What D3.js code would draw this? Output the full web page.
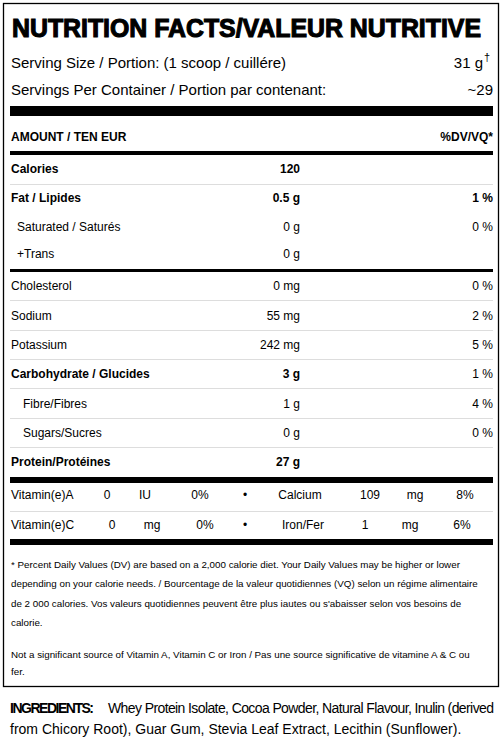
<!DOCTYPE html>
<html><head><meta charset="utf-8">
<script src="https://cdn.jsdelivr.net/npm/d3@7"></script>
<style>body{margin:0;background:#fff}svg{display:block}</style>
</head><body>
<script>
const nutrients = ["Calories","Fat / Lipides","Saturated / Saturés","+Trans","Cholesterol","Sodium","Potassium","Carbohydrate / Glucides","Fibre/Fibres","Sugars/Sucres","Protein/Protéines"];
const amounts = ["120","0.5 g","0 g","0 g","0 mg","55 mg","242 mg","3 g","1 g","0 g","27 g"];
const dvs = ["","1 %","0 %","","0 %","2 %","5 %","1 %","4 %","0 %",""];
const bold = [1,1,0,0,0,0,0,1,0,0,1];
const indent = [0,0,1,1,0,0,0,0,2,2,0];
const vitRow1 = ["Vitamin(e)A","0","IU","0%","•","Calcium","109","mg","8%"];
const vitRow2 = ["Vitamin(e)C","0","mg","0%","•","Iron/Fer","1","mg","6%"];

const W=504,H=742,F="Arial, 'Liberation Sans', sans-serif";
const svg=d3.select("body").append("svg").attr("width",W).attr("height",H);
svg.append("rect").attr("x",3.5).attr("y",3.5).attr("width",495).attr("height",683).attr("fill","none").attr("stroke","#000").attr("stroke-width",1.3);
const t=(x,y,s,o={})=>svg.append("text").attr("x",x).attr("y",y).text(s)
  .attr("font-family",F).attr("font-size",o.size||12).attr("font-weight",o.w||"normal")
  .attr("text-anchor",o.a||"start").attr("fill","#000");
const rect=(y,h,c="#000")=>svg.append("rect").attr("x",10).attr("y",y).attr("width",483).attr("height",h).attr("fill",c);

t(12,37,"NUTRITION FACTS/VALEUR NUTRITIVE",{size:25,w:"bold"}).attr("stroke","#000").attr("stroke-width",1.1)
  .attr("textLength",469).attr("lengthAdjust","spacingAndGlyphs");
t(11,68,"Serving Size / Portion: (1 scoop / cuillére)",{size:15});
t(483,68,"31 g",{size:15,a:"end"});
t(484,61,"†",{size:11});
t(11,95,"Servings Per Container / Portion par contenant:",{size:15});
t(493,95,"~29",{size:15,a:"end"});
rect(106,10);
t(11,141,"AMOUNT / TEN EUR",{w:"bold"});
t(493,141,"%DV/VQ*",{w:"bold",a:"end"});
rect(151,4);

const rowY=d3.scaleOrdinal().domain(nutrients).range([169,198,227,254,286,316,345,374,404,433,462]);
const ix=[11,17,23];
nutrients.forEach((n,i)=>{
  const y=rowY(n)+4, w=bold[i]?"bold":"normal";
  t(ix[indent[i]],y,n,{w});
  t(300,y,amounts[i],{w,a:"end"});
  if(dvs[i]) t(493,y,dvs[i],{w:i===1?"bold":"normal",a:"end"});
});
[184,300,330,359,388,418,447].forEach(y=>rect(y,1,"#ddd"));
rect(269,3);
rect(477,6);

const c1=[11,107,145,200,245,300,370,415,465], c2=[11,112,152,205,245,303,365,410,462];
vitRow1.forEach((s,i)=>t(c1[i],499,s,{a:i?"middle":"start"}));
rect(511,1,"#ddd");
vitRow2.forEach((s,i)=>t(c2[i],529,s,{a:i?"middle":"start"}));
rect(539,6);

const foot=["* Percent Daily Values (DV) are based on a 2,000 calorie diet. Your Daily Values may be higher or lower",
"depending on your calorie needs. / Bourcentage de la valeur quotidiennes (VQ) selon un régime alimentaire",
"de 2 000 calories. Vos valeurs quotidiennes peuvent être plus iautes ou s'abaisser selon vos besoins de",
"calorie."];
foot.forEach((s,i)=>t(11,568+i*19.3,s,{size:9.8}));
t(11,658,"Not a significant source of Vitamin A, Vitamin C or Iron / Pas une source significative de vitamine A & C ou",{size:9.8});
t(11,675,"fer.",{size:9.8});

t(10,713,"INGREDIENTS:",{size:14,w:"bold"}).attr("textLength",84).attr("lengthAdjust","spacing");
t(108,713,"Whey Protein Isolate, Cocoa Powder, Natural Flavour, Inulin (derived",{size:14}).attr("textLength",386).attr("lengthAdjust","spacing");
t(10,734,"from Chicory Root), Guar Gum, Stevia Leaf Extract, Lecithin (Sunflower).",{size:14});
</script>
</body></html>
